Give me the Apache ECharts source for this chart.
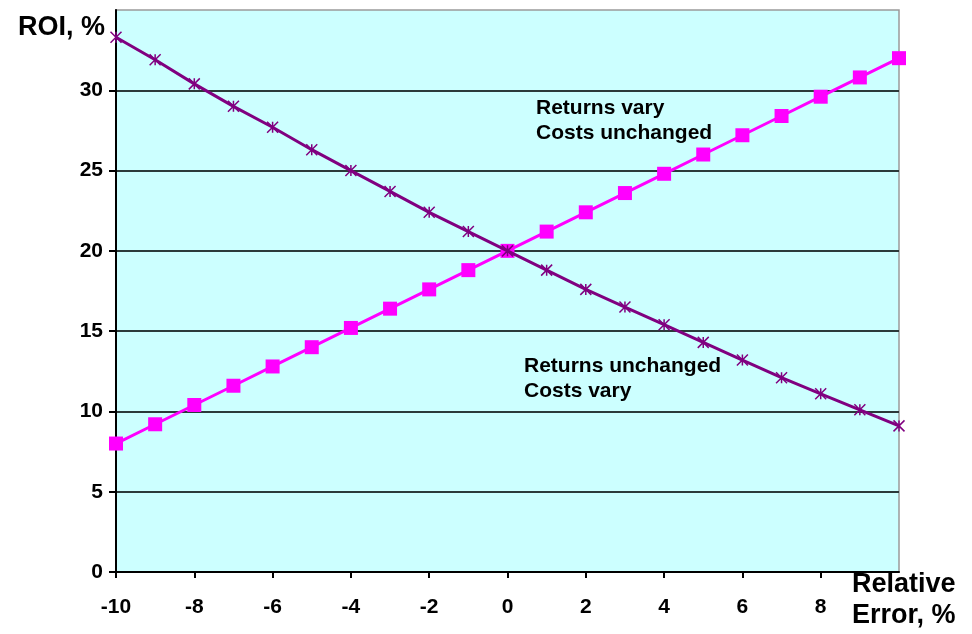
<!DOCTYPE html>
<html>
<head>
<meta charset="utf-8">
<script src="https://cdn.jsdelivr.net/npm/echarts@6/dist/echarts.min.js"></script>
<style>html,body{margin:0;padding:0;background:#fff;}#c{width:972px;height:634px;}</style>
</head>
<body>
<div id="c"></div>
<script>
var errors = [-10,-9,-8,-7,-6,-5,-4,-3,-2,-1,0,1,2,3,4,5,6,7,8,9,10];
var returnsVary = [8.0,9.2,10.4,11.6,12.8,14.0,15.2,16.4,17.6,18.8,20.0,21.2,22.4,23.6,24.8,26.0,27.2,28.4,29.6,30.8,32.0];
var costsVary = [33.3,31.9,30.4,29.0,27.7,26.3,25.0,23.7,22.4,21.2,20.0,18.8,17.6,16.5,15.4,14.3,13.2,12.1,11.1,10.1,9.1];
var yTicks = [0,5,10,15,20,25,30];
var xTicks = [-10,-8,-6,-4,-2,0,2,4,6,8];
var xTickLabels = ['-10','-8','-6','-4','-2','0','2','4','6','8'];

function pairs(vals){ return errors.map(function(x,i){ return [x, vals[i]]; }); }

var chart = echarts.init(document.getElementById('c'));
var font = 'Arial, "Liberation Sans", sans-serif';
chart.setOption({
  animation: false,
  grid: {left:116, right:73, top:10, bottom:62, show:true, backgroundColor:'#ccffff', borderColor:'#9a9a9a', borderWidth:1.5},
  xAxis: {
    type:'value', min:-10, max:10, interval:2,
    axisLine:{show:true, onZero:false, lineStyle:{color:'#000', width:2}},
    axisTick:{show:true, length:6, customValues:xTicks, lineStyle:{color:'#000', width:2}},
    splitLine:{show:false},
    axisLabel:{margin:25, color:'#000', fontWeight:'bold', fontSize:21, fontFamily:font,
      formatter:function(v){ var s=String(v); return xTickLabels.indexOf(s)>=0 ? s : ''; }}
  },
  yAxis: {
    type:'value', min:0, max:35, interval:5,
    axisLine:{show:true, onZero:false, lineStyle:{color:'#000', width:2}},
    axisTick:{show:true, length:7, customValues:yTicks, lineStyle:{color:'#000', width:2}},
    splitLine:{show:true, lineStyle:{color:['#000','#2b3a3a','#2b3a3a','#2b3a3a','#2b3a3a','#2b3a3a','#2b3a3a','#9a9a9a'], width:2}},
    axisLabel:{margin:13, color:'#000', fontWeight:'bold', fontSize:21, fontFamily:font,
      formatter:function(v){ return yTicks.indexOf(v)>=0 ? String(v) : ''; }}
  },
  series: [
    {type:'line', data:pairs(returnsVary), symbol:'rect', symbolSize:14,
     lineStyle:{color:'#ff00ff', width:3}, itemStyle:{color:'#ff00ff'}, z:2},
    {type:'line', data:pairs(costsVary), symbol:'path://M0 0 L10 10 M10 0 L0 10 M5 0 L5 10', symbolSize:11,
     lineStyle:{color:'#800080', width:3}, itemStyle:{color:'transparent', borderColor:'#800080', borderWidth:1.5}, z:3}
  ],
  graphic: [
    {type:'text', left:18, top:14, style:{text:'ROI, %', font:'bold 27px '+font, fill:'#000'}},
    {type:'text', left:852, top:569, style:{text:'Relative\nError, %', font:'bold 27px '+font, fill:'#000', lineHeight:31}},
    {type:'text', left:536, top:96, style:{text:'Returns vary\nCosts unchanged', font:'bold 21px '+font, fill:'#000', lineHeight:25}},
    {type:'text', left:524, top:354, style:{text:'Returns unchanged\nCosts vary', font:'bold 21px '+font, fill:'#000', lineHeight:25}}
  ]
});
</script>
</body>
</html>
